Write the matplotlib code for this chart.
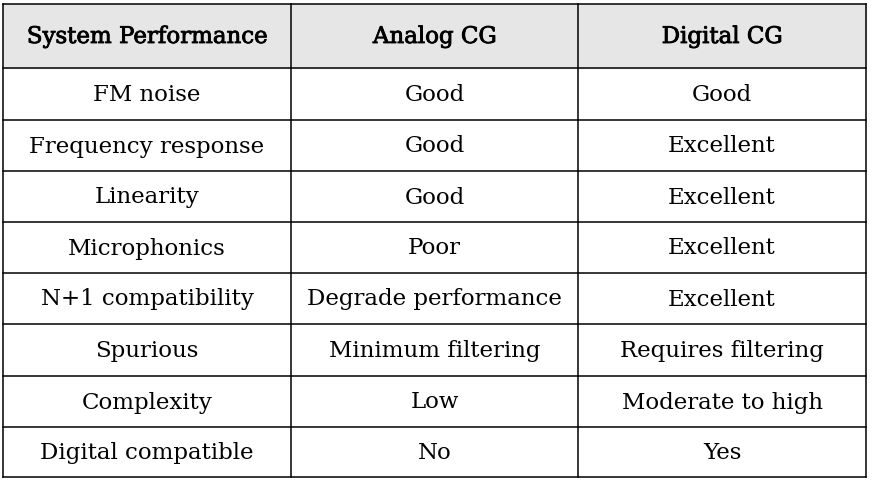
import matplotlib
matplotlib.use("Agg")
import matplotlib.pyplot as plt
import matplotlib.patheffects as pe

headers = ["System Performance", "Analog CG", "Digital CG"]
metrics = ["FM noise", "Frequency response", "Linearity", "Microphonics",
           "N+1 compatibility", "Spurious", "Complexity", "Digital compatible"]
analog_cg = ["Good", "Good", "Good", "Poor", "Degrade performance",
             "Minimum filtering", "Low", "No"]
digital_cg = ["Good", "Excellent", "Excellent", "Excellent", "Excellent",
              "Requires filtering", "Moderate to high", "Yes"]

W, H = 873, 487
fig = plt.figure(figsize=(W / 100, H / 100), dpi=100)
ax = fig.add_axes([0, 0, 1, 1])
ax.set_xlim(0, W)
ax.set_ylim(H, 0)
ax.axis("off")

# table layout in pixels
col_x = [3, 291, 578, 866]
row_y = [4, 68, 120, 171, 222, 273, 324, 376, 427, 477]

ax.fill_between([col_x[0], col_x[-1]], row_y[0], row_y[1], color="#e6e6e6", zorder=0)

for y in row_y:
    ax.plot([col_x[0], col_x[-1]], [y, y], color="black", lw=1.1)
for x in col_x:
    ax.plot([x, x], [row_y[0], row_y[-1]], color="black", lw=1.1)

font = dict(family="DejaVu Serif", fontsize=16.5, ha="center", va="center")
centers = [(col_x[i] + col_x[i + 1]) / 2 for i in range(3)]

# header looks a bit heavier than the body text, but not full bold
for i, h in enumerate(headers):
    ax.text(centers[i], (row_y[0] + row_y[1]) / 2 + 1, h,
            path_effects=[pe.withStroke(linewidth=0.6, foreground="black")], **font)

columns = [metrics, analog_cg, digital_cg]
for r in range(len(metrics)):
    yc = (row_y[r + 1] + row_y[r + 2]) / 2 + 1
    for c in range(3):
        ax.text(centers[c], yc, columns[c][r], **font)

fig.savefig("out.png", dpi=100)
